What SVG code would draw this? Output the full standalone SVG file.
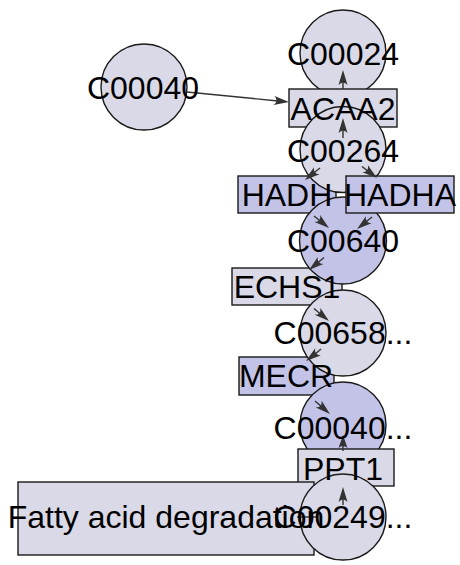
<svg xmlns="http://www.w3.org/2000/svg" width="460" height="565" viewBox="0 0 460 565">
<defs>
<style>
.n{stroke:#1a1a1a;stroke-width:1.4}
.l{fill:#d9d9e7}
.b{fill:#c3c3e8}
.e{stroke:#333;stroke-width:1.4;fill:none}
.a{fill:#333;stroke:none}
text{font-family:"Liberation Sans",Arial,sans-serif;font-size:32px;fill:#000;text-anchor:middle}
</style>
</defs>
<rect width="460" height="565" fill="#fff"/>
<g id="nodes">
<g id="C00040"><circle class="n l" cx="144" cy="87" r="43"/></g>
<g id="C00024"><circle class="n l" cx="343" cy="53" r="43"/></g>
<g id="ACAA2"><rect class="n l" x="289" y="89" width="108" height="38"/></g>
<g id="HADH"><rect class="n b" x="238" y="176" width="98" height="37"/></g>
<g id="ECHS1"><rect class="n l" x="232" y="268" width="110" height="37"/></g>
<g id="MECR"><rect class="n b" x="239" y="357" width="95" height="38"/></g>
<g id="C00264"><circle class="n l" cx="343" cy="149.5" r="43"/></g>
<g id="C00640"><circle class="n b" cx="343" cy="240.5" r="43.5"/></g>
<g id="HADHA"><rect class="n b" x="346" y="176" width="108" height="37"/></g>
<g id="C00658"><circle class="n l" cx="343" cy="333" r="43"/></g>
<g id="C00040b"><circle class="n b" cx="343" cy="425" r="43"/></g>
<g id="PPT1"><rect class="n l" x="298" y="449" width="96" height="37"/></g>
<g id="Fatty"><rect class="n l" x="18" y="482" width="296" height="73"/></g>
<g id="C00249"><circle class="n l" cx="343" cy="517" r="43"/></g>
</g>
<g id="edges">
<line class="e" x1="187" y1="92" x2="278" y2="101"/>
<path class="a" d="M289,102 L273.6,105 Q279,101 274.5,96.1 Z"/>
<line class="e" x1="343" y1="89" x2="343" y2="82"/>
<path class="a" d="M343,70 L347.5,85 Q343,80 338.5,85 Z"/>
<line class="e" x1="343" y1="138" x2="343" y2="128"/>
<path class="a" d="M343,118 L347.5,133 Q343,128 338.5,133 Z"/>
<line class="e" x1="320" y1="168" x2="313" y2="173.5"/>
<path class="a" d="M305,180 L319.55,174.19 Q312.83,173.78 313.95,167.15 Z"/>
<line class="e" x1="362" y1="166.5" x2="369" y2="172"/>
<path class="a" d="M377,178 L362.41,172.33 Q369.12,171.85 367.95,165.23 Z"/>
<line class="e" x1="314" y1="216" x2="321" y2="221.5"/>
<path class="a" d="M329,228 L314.52,222.03 Q321.24,221.69 320.2,215.05 Z"/>
<line class="e" x1="372" y1="217" x2="365" y2="222.5"/>
<path class="a" d="M357,229 L371.53,223.15 Q364.81,222.76 365.91,216.13 Z"/>
<line class="e" x1="324" y1="257.5" x2="317" y2="263.5"/>
<path class="a" d="M309,270 L323.46,263.96 Q316.73,263.65 317.74,257 Z"/>
<line class="e" x1="314" y1="308.5" x2="321" y2="314.5"/>
<path class="a" d="M329,321 L314.62,314.81 Q321.34,314.57 320.4,307.91 Z"/>
<line class="e" x1="321" y1="349" x2="314" y2="355"/>
<path class="a" d="M306,361 L320.67,355.49 Q313.96,354.94 315.21,348.33 Z"/>
<line class="e" x1="315" y1="401" x2="322" y2="407"/>
<path class="a" d="M330,414 L315.73,407.58 Q322.45,407.45 321.63,400.78 Z"/>
<line class="e" x1="343" y1="451" x2="343" y2="444"/>
<path class="a" d="M343,435 L347.5,448 Q343,444 338.5,448 Z"/>
<line class="e" x1="343" y1="505" x2="343" y2="497"/>
<path class="a" d="M343,487 L347.5,502 Q343,497 338.5,502 Z"/>
<line class="e" x1="297" y1="517" x2="316" y2="517"/>
</g>
<g id="labels">
<text x="143" y="98.5">C00040</text>
<text x="343" y="65">C00024</text>
<text x="343" y="120">ACAA2</text>
<text x="343" y="162">C00264</text>
<text x="287" y="206">HADH</text>
<text x="400" y="206">HADHA</text>
<text x="343" y="252">C00640</text>
<text x="287" y="298">ECHS1</text>
<text x="343" y="344">C00658...</text>
<text x="286" y="387">MECR</text>
<text x="343" y="439">C00040...</text>
<text x="343" y="479.5">PPT1</text>
<text x="166" y="527.5">Fatty acid degradation</text>
<text x="343" y="527.5">C00249...</text>
</g>
</svg>
